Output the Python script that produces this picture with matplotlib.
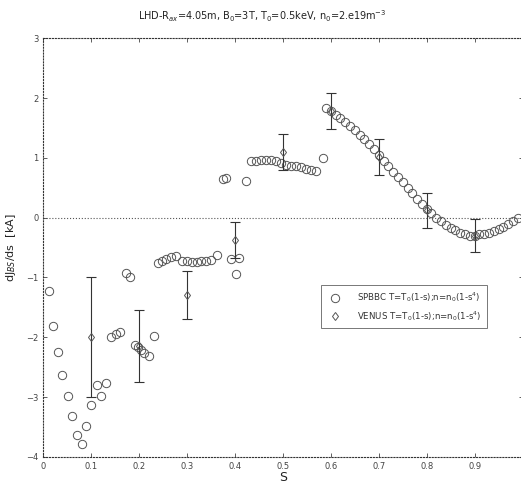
import numpy as np
import matplotlib
matplotlib.use('Agg')
import matplotlib.pyplot as plt

# SPBBC points (s, dJ/ds)
s_spbbc = [0.011, 0.020, 0.030, 0.040, 0.051, 0.059, 0.070, 0.081, 0.090, 0.100,
           0.112, 0.120, 0.130, 0.142, 0.152, 0.161, 0.172, 0.180, 0.191, 0.198,
           0.203, 0.211, 0.220, 0.231, 0.239, 0.248, 0.257, 0.267, 0.276, 0.290,
           0.300, 0.311, 0.320, 0.330, 0.340, 0.351, 0.363, 0.374, 0.381, 0.391,
           0.403, 0.409, 0.423, 0.433, 0.444, 0.454, 0.464, 0.475, 0.485, 0.496,
           0.506, 0.517, 0.527, 0.538, 0.548, 0.559, 0.569, 0.583,
           0.59, 0.60, 0.61, 0.62, 0.63, 0.64, 0.65, 0.66, 0.67, 0.68,
           0.69, 0.70, 0.71, 0.72, 0.73, 0.74, 0.75, 0.76, 0.77, 0.78,
           0.79, 0.80, 0.81, 0.82, 0.83, 0.84, 0.85, 0.86, 0.87, 0.88,
           0.89, 0.90, 0.91, 0.92, 0.93, 0.94, 0.95, 0.96, 0.97, 0.98, 0.99]
dj_spbbc = [-1.23, -1.81, -2.25, -2.63, -2.99, -3.32, -3.63, -3.79, -3.49, -3.13,
            -2.79, -2.99, -2.76, -2.00, -1.94, -1.92, -0.93, -0.99, -2.13, -2.17,
            -2.21, -2.27, -2.31, -1.98, -0.75, -0.72, -0.69, -0.66, -0.64, -0.72,
            -0.73, -0.74, -0.74, -0.73, -0.72, -0.70, -0.63, 0.65, 0.66, -0.69,
            -0.95, -0.67, 0.62, 0.94, 0.95, 0.96, 0.97, 0.97, 0.95, 0.91,
            0.88, 0.87, 0.86, 0.84, 0.82, 0.80, 0.78, 0.99,
            1.84, 1.78, 1.72, 1.66, 1.60, 1.53, 1.46, 1.39, 1.31, 1.23,
            1.14, 1.04, 0.95, 0.86, 0.77, 0.68, 0.59, 0.50, 0.41, 0.32,
            0.23, 0.15, 0.07, 0.00, -0.06, -0.12, -0.17, -0.21, -0.25, -0.28,
            -0.30, -0.30, -0.28, -0.27, -0.25, -0.22, -0.19, -0.15, -0.11, -0.06, 0.00]

# VENUS points with error bars
s_venus = [0.1, 0.2, 0.3, 0.4, 0.5, 0.6, 0.7, 0.8, 0.9]
dj_venus = [-2.0, -2.15, -1.3, -0.38, 1.1, 1.78, 1.02, 0.12, -0.3]
err_venus = [1.0, 0.6, 0.4, 0.3, 0.3, 0.3, 0.3, 0.3, 0.28]

xticks = [0, 0.1, 0.2, 0.3, 0.4, 0.5, 0.6, 0.7, 0.8, 0.9]
xticklabels = ['0', '0.1', '0.2', '0.3', '0.4', '0.5', '0.6', '0.7', '0.8', '0.9']
yticks = [-4, -3, -2, -1, 0, 1, 2, 3]

gray = '#444444'
fig = plt.figure(figsize=(5.21, 4.84), dpi=100)
ax = fig.add_axes([0.083, 0.056, 0.92, 0.865])

ax.axhline(0, color='#555555', lw=0.8, ls=':', zorder=1)
ax.plot(s_spbbc, dj_spbbc, 'o', mfc='none', mec='#555555', ms=6, mew=0.7,
        label='SPBBC T=T$_0$(1-s);n=n$_0$(1-s$^4$)')
ax.errorbar(s_venus, dj_venus, yerr=err_venus, fmt='none',
            ecolor='#333333', elinewidth=0.8, capsize=3.5, capthick=0.8)
ax.plot(s_venus, dj_venus, 'd', mfc='none', mec='#555555', ms=4.5, mew=0.7,
        label='VENUS T=T$_0$(1-s);n=n$_0$(1-s$^4$)')

ax.set_xlim(0, 1)
ax.set_ylim(-4, 3)
ax.set_xticks(xticks)
ax.set_xticklabels(xticklabels)
ax.set_yticks(yticks)
ax.tick_params(direction='in', top=True, right=True, labelsize=6,
               colors=gray, length=3, width=0.6)
for sp in ax.spines.values():
    sp.set_linestyle(':')
    sp.set_linewidth(0.8)
    sp.set_color('#333333')

ax.set_xlabel('S', fontsize=9, color='#222222', labelpad=0)
ax.set_ylabel('dJ$_{BS}$/ds  [kA]', fontsize=8, color='#222222', labelpad=6)
fig.text(0.503, 0.967, 'LHD-R$_{ax}$=4.05m, B$_0$=3T, T$_0$=0.5keV, n$_0$=2.e19m$^{-3}$',
         ha='center', va='center', fontsize=7, color='#222222')

leg = ax.legend(loc='upper left', bbox_to_anchor=(0.57, 0.42), fontsize=6.2,
                frameon=True, fancybox=False, edgecolor='#555555',
                borderpad=0.6, labelspacing=0.5, handletextpad=1.4, handlelength=2.2)
leg.get_frame().set_linewidth(0.7)
for t in leg.get_texts():
    t.set_color('#333333')

fig.savefig('out.png', dpi=100)
